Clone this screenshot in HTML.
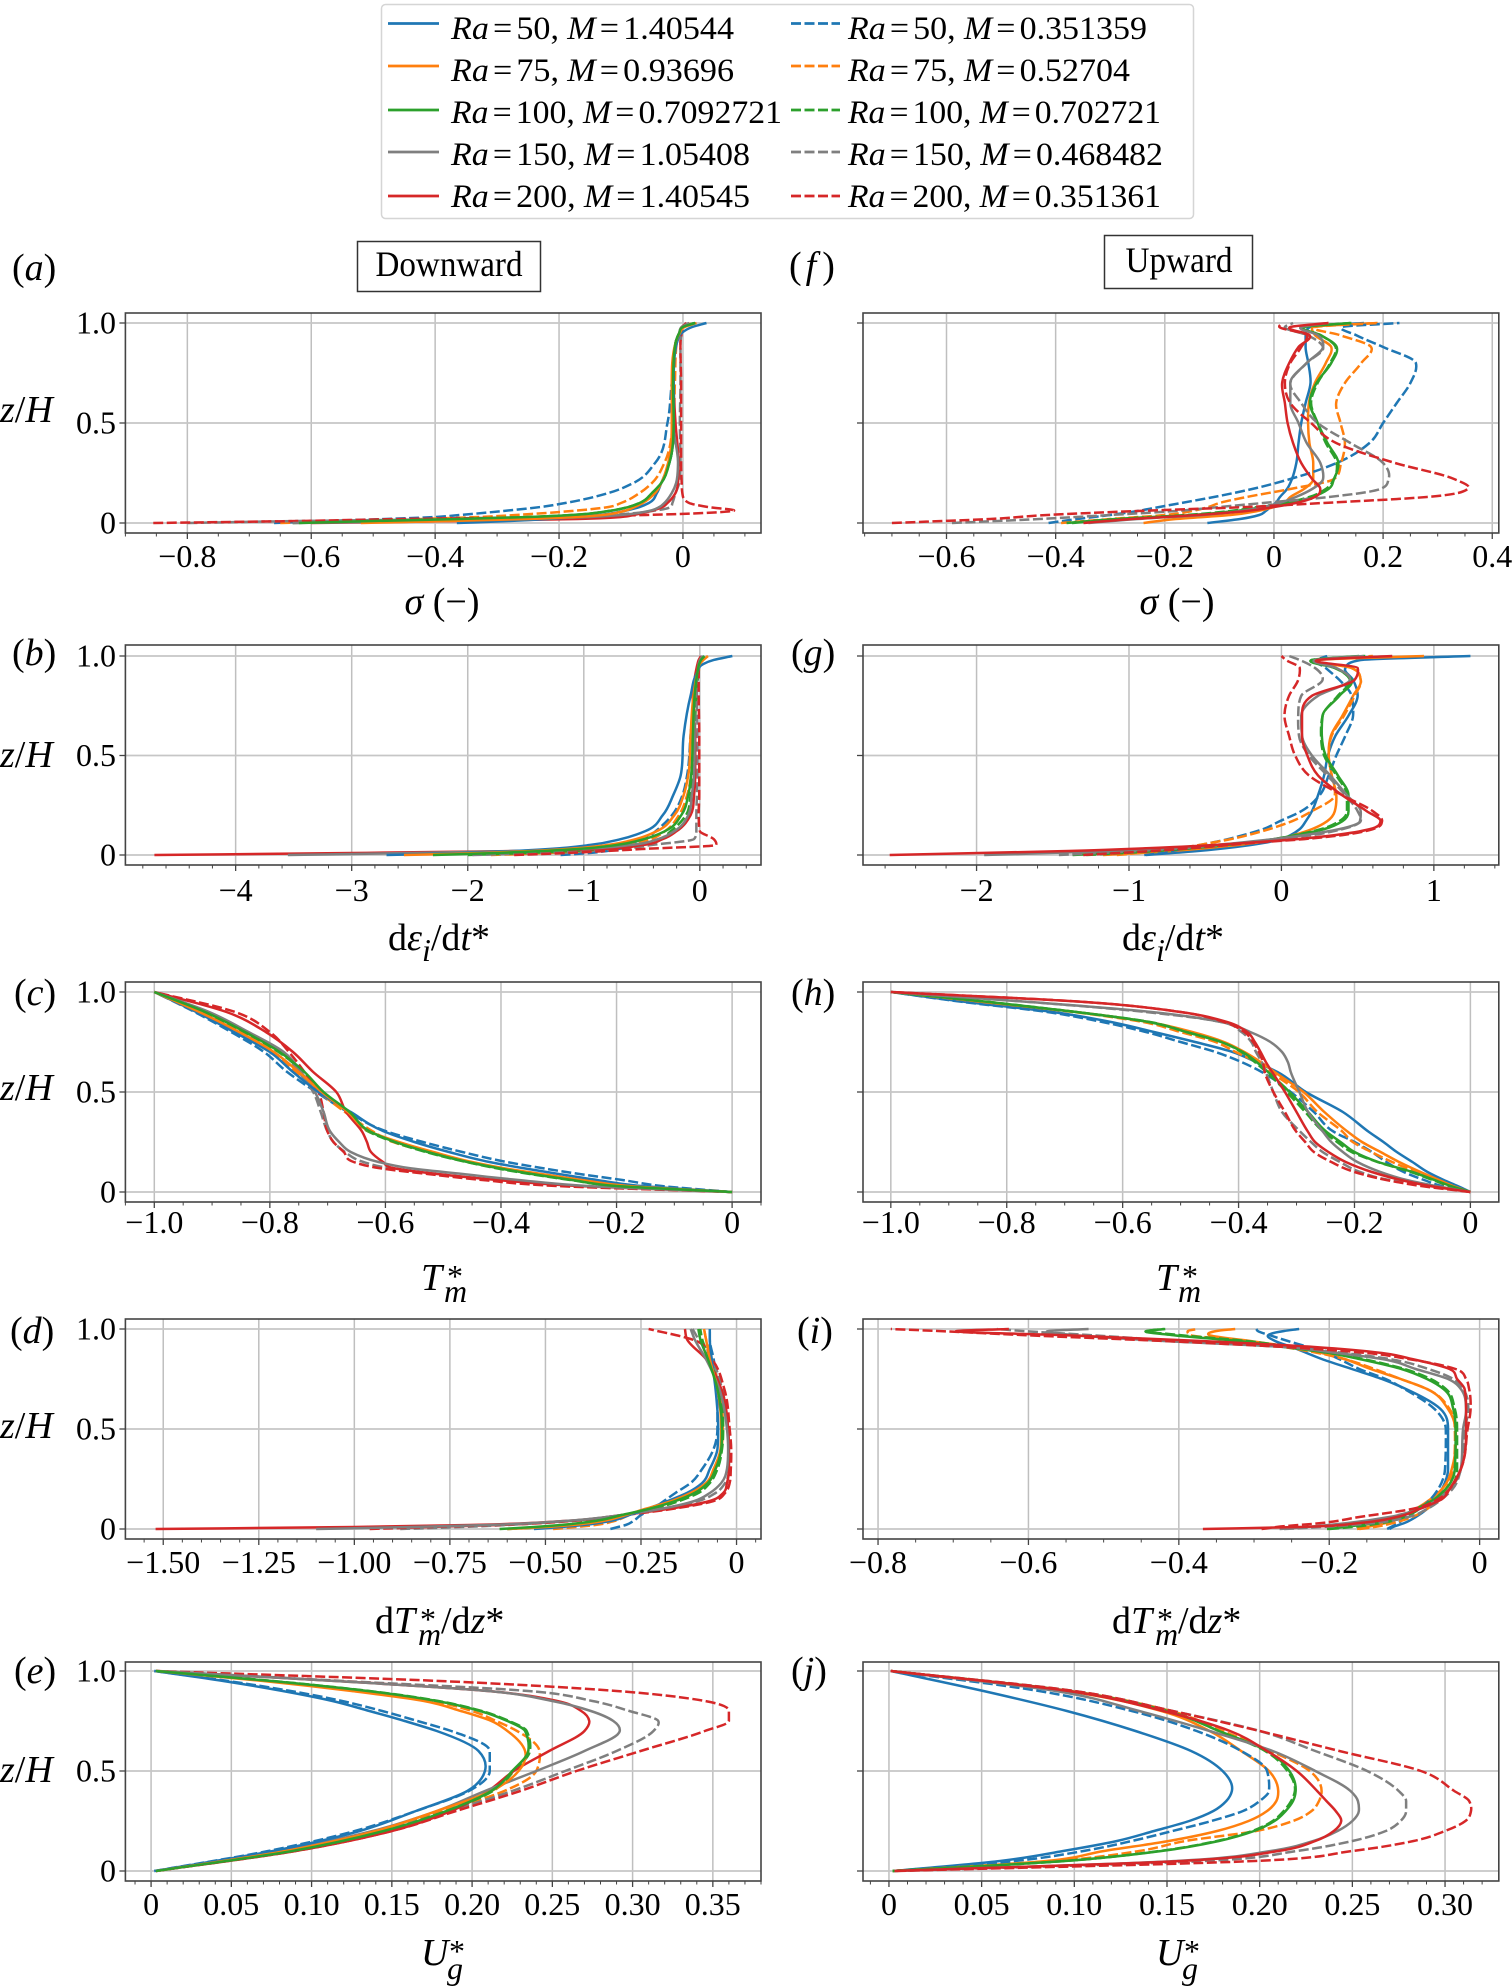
<!DOCTYPE html>
<html lang="en">
<head>
<meta charset="utf-8">
<title>Vertical profiles for downward and upward cases</title>
<style>
html,body{margin:0;padding:0;background:#fff}
svg{display:block}
text{font-family:"Liberation Serif","DejaVu Serif",serif;fill:#000}
.tick{font-size:32px}
.lab{font-size:38px}
.sub{font-size:32px}
.leg{font-size:33px}
.pan{font-size:38px}
.ttl{font-size:36px}
.it{font-style:italic}
</style>
</head>
<body>
<svg id="figure" xmlns="http://www.w3.org/2000/svg" width="1512" height="1987" viewBox="0 0 1512 1987">
  <rect x="0" y="0" width="1512" height="1987" fill="#fff"/>

  <g>
    <rect x="381.5" y="4.5" width="812" height="214" rx="4" fill="#fff" stroke="#d5d5d5" stroke-width="1.5"/>
    <g><line x1="388" x2="439" y1="23.5" y2="23.5" stroke="#1f77b4" stroke-width="2.8"/><text class="leg" x="451" y="39" textLength="283" lengthAdjust="spacingAndGlyphs"><tspan class="it">Ra</tspan><tspan dx="4">=</tspan><tspan dx="4">50,</tspan><tspan dx="8" class="it">M</tspan><tspan dx="4">=</tspan><tspan dx="4">1.40544</tspan></text></g>
    <g><line x1="388" x2="439" y1="66" y2="66" stroke="#ff7f0e" stroke-width="2.8"/><text class="leg" x="451" y="81" textLength="283" lengthAdjust="spacingAndGlyphs"><tspan class="it">Ra</tspan><tspan dx="4">=</tspan><tspan dx="4">75,</tspan><tspan dx="8" class="it">M</tspan><tspan dx="4">=</tspan><tspan dx="4">0.93696</tspan></text></g>
    <g><line x1="388" x2="439" y1="110" y2="110" stroke="#2ca02c" stroke-width="2.8"/><text class="leg" x="451" y="123" textLength="331" lengthAdjust="spacingAndGlyphs"><tspan class="it">Ra</tspan><tspan dx="4">=</tspan><tspan dx="4">100,</tspan><tspan dx="8" class="it">M</tspan><tspan dx="4">=</tspan><tspan dx="4">0.7092721</tspan></text></g>
    <g><line x1="388" x2="439" y1="152" y2="152" stroke="#7f7f7f" stroke-width="2.8"/><text class="leg" x="451" y="165" textLength="299" lengthAdjust="spacingAndGlyphs"><tspan class="it">Ra</tspan><tspan dx="4">=</tspan><tspan dx="4">150,</tspan><tspan dx="8" class="it">M</tspan><tspan dx="4">=</tspan><tspan dx="4">1.05408</tspan></text></g>
    <g><line x1="388" x2="439" y1="196" y2="196" stroke="#d62728" stroke-width="2.8"/><text class="leg" x="451" y="207" textLength="299" lengthAdjust="spacingAndGlyphs"><tspan class="it">Ra</tspan><tspan dx="4">=</tspan><tspan dx="4">200,</tspan><tspan dx="8" class="it">M</tspan><tspan dx="4">=</tspan><tspan dx="4">1.40545</tspan></text></g>
    <g><line x1="791" x2="840" y1="23.5" y2="23.5" stroke="#1f77b4" stroke-width="2.8" stroke-dasharray="10 3.5"/><text class="leg" x="848" y="39" textLength="299" lengthAdjust="spacingAndGlyphs"><tspan class="it">Ra</tspan><tspan dx="4">=</tspan><tspan dx="4">50,</tspan><tspan dx="8" class="it">M</tspan><tspan dx="4">=</tspan><tspan dx="4">0.351359</tspan></text></g>
    <g><line x1="791" x2="840" y1="66" y2="66" stroke="#ff7f0e" stroke-width="2.8" stroke-dasharray="10 3.5"/><text class="leg" x="848" y="81" textLength="282" lengthAdjust="spacingAndGlyphs"><tspan class="it">Ra</tspan><tspan dx="4">=</tspan><tspan dx="4">75,</tspan><tspan dx="8" class="it">M</tspan><tspan dx="4">=</tspan><tspan dx="4">0.52704</tspan></text></g>
    <g><line x1="791" x2="840" y1="110" y2="110" stroke="#2ca02c" stroke-width="2.8" stroke-dasharray="10 3.5"/><text class="leg" x="848" y="123" textLength="313" lengthAdjust="spacingAndGlyphs"><tspan class="it">Ra</tspan><tspan dx="4">=</tspan><tspan dx="4">100,</tspan><tspan dx="8" class="it">M</tspan><tspan dx="4">=</tspan><tspan dx="4">0.702721</tspan></text></g>
    <g><line x1="791" x2="840" y1="152" y2="152" stroke="#7f7f7f" stroke-width="2.8" stroke-dasharray="10 3.5"/><text class="leg" x="848" y="165" textLength="315" lengthAdjust="spacingAndGlyphs"><tspan class="it">Ra</tspan><tspan dx="4">=</tspan><tspan dx="4">150,</tspan><tspan dx="8" class="it">M</tspan><tspan dx="4">=</tspan><tspan dx="4">0.468482</tspan></text></g>
    <g><line x1="791" x2="840" y1="196" y2="196" stroke="#d62728" stroke-width="2.8" stroke-dasharray="10 3.5"/><text class="leg" x="848" y="207" textLength="313" lengthAdjust="spacingAndGlyphs"><tspan class="it">Ra</tspan><tspan dx="4">=</tspan><tspan dx="4">200,</tspan><tspan dx="8" class="it">M</tspan><tspan dx="4">=</tspan><tspan dx="4">0.351361</tspan></text></g>
  </g>

  <g>
    <rect x="357.5" y="241.5" width="183" height="50" fill="#fff" stroke="#333" stroke-width="1.5"/>
    <text class="ttl" x="449" y="276" text-anchor="middle" textLength="147" lengthAdjust="spacingAndGlyphs">Downward</text>
  </g>
  <g>
    <rect x="1104.5" y="235.5" width="148" height="53" fill="#fff" stroke="#333" stroke-width="1.5"/>
    <text class="ttl" x="1179" y="272" text-anchor="middle" textLength="107" lengthAdjust="spacingAndGlyphs">Upward</text>
  </g>

  <g>
    <text x="12" y="280" class="pan">(<tspan class="it">a</tspan>)</text>
    <text x="12" y="665" class="pan">(<tspan class="it">b</tspan>)</text>
    <text x="14" y="1005" class="pan">(<tspan class="it">c</tspan>)</text>
    <text x="10" y="1343" class="pan">(<tspan class="it">d</tspan>)</text>
    <text x="14" y="1683" class="pan">(<tspan class="it">e</tspan>)</text>
    <text x="789" y="278" class="pan">(<tspan class="it" dx="4">f</tspan><tspan dx="6">)</tspan></text>
    <text x="791" y="665" class="pan">(<tspan class="it">g</tspan>)</text>
    <text x="791" y="1005" class="pan">(<tspan class="it">h</tspan>)</text>
    <text x="797" y="1343" class="pan">(<tspan class="it">i</tspan>)</text>
    <text x="791" y="1683" class="pan">(<tspan class="it">j</tspan>)</text>
  </g>

  <g>
    <text class="lab" x="0" y="422"><tspan class="it">z</tspan>/<tspan class="it">H</tspan></text>
    <text class="lab" x="0" y="767"><tspan class="it">z</tspan>/<tspan class="it">H</tspan></text>
    <text class="lab" x="0" y="1100"><tspan class="it">z</tspan>/<tspan class="it">H</tspan></text>
    <text class="lab" x="0" y="1438"><tspan class="it">z</tspan>/<tspan class="it">H</tspan></text>
    <text class="lab" x="0" y="1782"><tspan class="it">z</tspan>/<tspan class="it">H</tspan></text>
  </g>

  <g>
    <text class="lab" text-anchor="middle" x="442" y="614"><tspan class="it">σ</tspan> (−)</text>
    <text class="lab" text-anchor="middle" x="1177" y="614"><tspan class="it">σ</tspan> (−)</text>
    <text class="lab" text-anchor="middle" x="439" y="950">d<tspan class="it">ε</tspan><tspan class="it sub" dy="11">i</tspan><tspan dy="-11">/d</tspan><tspan class="it">t</tspan>*</text>
    <text class="lab" text-anchor="middle" x="1173" y="950">d<tspan class="it">ε</tspan><tspan class="it sub" dy="11">i</tspan><tspan dy="-11">/d</tspan><tspan class="it">t</tspan>*</text>
    <g><text class="lab it" x="421" y="1290">T</text><text class="sub" x="447" y="1287">*</text><text class="sub it" x="444" y="1302">m</text></g>
    <g><text class="lab it" x="1156" y="1290">T</text><text class="sub" x="1182" y="1287">*</text><text class="sub it" x="1178" y="1302">m</text></g>
    <g><text class="lab" x="375" y="1633">d<tspan class="it">T</tspan></text><text class="sub" x="420" y="1630">*</text><text class="sub it" x="418" y="1645">m</text><text class="lab" x="441" y="1633">/d<tspan class="it">z</tspan>*</text></g>
    <g><text class="lab" x="1112" y="1633">d<tspan class="it">T</tspan></text><text class="sub" x="1157" y="1630">*</text><text class="sub it" x="1155" y="1645">m</text><text class="lab" x="1178" y="1633">/d<tspan class="it">z</tspan>*</text></g>
    <g><text class="lab it" x="421" y="1965">U</text><text class="sub" x="449" y="1962">*</text><text class="sub it" x="447" y="1979">g</text></g>
    <g><text class="lab it" x="1156" y="1965">U</text><text class="sub" x="1184" y="1962">*</text><text class="sub it" x="1182" y="1979">g</text></g>
  </g>

  <g id="panels"></g>
</svg>

<script>
// Shared categories
const rayleighNumbers = [50, 75, 100, 150, 200];
const zTickValues = [0, 0.5, 1];
const zTickLabels = ['0', '0.5', '1.0'];

// Panel (a) sigma, downward
const a_z = [0,.01,.02,.03,.04,.06,.08,.1,.15,.2,.3,.5,.7,.9,.95,.98,1];
const a_s50 = [-.365,-.28,-.22,-.17,-.135,-.095,-.07,-.055,-.042,-.035,-.022,-.015,-.015,-.01,-.002,.015,.038];
const a_s75 = [-.52,-.38,-.25,-.17,-.13,-.095,-.078,-.065,-.045,-.035,-.024,-.018,-.018,-.012,-.005,.003,.022];
const a_s100 = [-.62,-.5,-.36,-.25,-.18,-.12,-.088,-.07,-.05,-.035,-.022,-.015,-.016,-.012,-.006,0,.02];
const a_s150 = [-.63,-.4,-.25,-.15,-.1,-.055,-.038,-.03,-.018,-.011,-.008,-.016,-.016,-.012,-.006,-.002,.01];
const a_s200 = [-.6,-.35,-.17,-.1,-.08,-.052,-.033,-.025,-.012,-.008,-.007,-.012,-.015,-.012,-.006,-.002,.006];
const a_d50 = [-.66,-.58,-.48,-.4,-.36,-.29,-.23,-.19,-.12,-.08,-.045,-.025,-.018,-.01,-.004,0,.02];
const a_d75 = [-.65,-.5,-.42,-.33,-.27,-.18,-.12,-.1,-.07,-.05,-.03,-.016,-.013,-.01,-.005,0,.015];
const a_d100 = [-.63,-.5,-.36,-.25,-.18,-.12,-.088,-.07,-.05,-.035,-.022,-.015,-.016,-.012,-.006,0,.018];
const a_d150 = [-.8,-.62,-.35,-.2,-.12,-.05,-.02,-.017,-.012,-.006,-.004,-.005,-.004,-.004,-.002,0,.005];
const a_d200 = [-.855,-.62,-.45,-.2,-.06,.08,.04,.01,-.001,-.002,-.003,-.003,-.003,-.004,-.002,0,.01];
const a_ticks = [-.8,-.6,-.4,-.2,0];
const a_tickLabels = ['−0.8','−0.6','−0.4','−0.2','0'];

// Panel (b) strain rate, downward
const b_z = [0,.01,.02,.03,.05,.08,.12,.2,.3,.4,.6,.8,.92,.96,.98,1];
const b_s50 = [-2.7,-2.05,-1.6,-1.3,-.95,-.68,-.47,-.32,-.23,-.165,-.14,-.08,-.02,.03,.12,.28];
const b_s75 = [-2.55,-1.9,-1.45,-1.15,-.8,-.55,-.37,-.22,-.14,-.1,-.08,-.055,-.02,0,.03,.07];
const b_s100 = [-2.3,-1.75,-1.35,-1.05,-.72,-.48,-.3,-.16,-.1,-.075,-.06,-.045,-.02,-.005,.01,.04];
const b_s150 = [-3.55,-2.5,-1.6,-1.05,-.6,-.36,-.22,-.1,-.07,-.05,-.045,-.05,-.02,-.01,0,.02];
const b_s200 = [-4.7,-3,-1.6,-.9,-.5,-.32,-.2,-.08,-.05,-.04,-.04,-.06,-.035,-.02,-.01,.01];
const b_d50 = [-1.2,-.95,-.8,-.7,-.58,-.47,-.38,-.24,-.15,-.11,-.08,-.05,-.015,0,.01,.03];
const b_d75 = [-1.8,-1.3,-1,-.82,-.6,-.42,-.3,-.18,-.11,-.075,-.05,-.03,-.01,0,.01,.03];
const b_d100 = [-2,-1.5,-1.1,-.85,-.55,-.35,-.25,-.12,-.08,-.06,-.045,-.03,-.01,0,.01,.03];
const b_d150 = [-1.96,-1.4,-1,-.7,-.42,-.05,-.03,-.03,-.025,-.02,-.02,-.025,-.02,-.01,0,.02];
const b_d200 = [-1.6,-1.15,-.8,-.5,.14,.12,0,-.01,-.005,-.005,-.005,-.01,-.01,-.005,0,.05];
const b_ticks = [-4,-3,-2,-1,0];
const b_tickLabels = ['−4','−3','−2','−1','0'];

// Panel (c) temperature, downward
const c_z = [0,.03,.06,.09,.12,.15,.2,.25,.3,.4,.5,.6,.7,.8,.9,1];
const c_s50 = [0,-.157,-.234,-.3,-.363,-.42,-.49,-.55,-.6,-.66,-.716,-.76,-.8,-.862,-.927,-1];
const c_s75 = [0,-.18,-.26,-.33,-.397,-.45,-.517,-.577,-.625,-.665,-.71,-.75,-.793,-.853,-.922,-1];
const c_s100 = [0,-.2,-.277,-.346,-.406,-.458,-.527,-.583,-.625,-.662,-.707,-.74,-.783,-.843,-.912,-1];
const c_s150 = [0,-.25,-.37,-.466,-.56,-.612,-.66,-.68,-.695,-.707,-.722,-.746,-.776,-.837,-.905,-1];
const c_s200 = [0,-.268,-.406,-.51,-.587,-.604,-.625,-.632,-.64,-.668,-.685,-.725,-.76,-.807,-.875,-1];
const c_d50 = [0,-.122,-.19,-.264,-.33,-.39,-.467,-.535,-.595,-.665,-.72,-.77,-.81,-.867,-.93,-1];
const c_d75 = [0,-.185,-.268,-.342,-.406,-.458,-.527,-.587,-.62,-.67,-.715,-.755,-.8,-.86,-.927,-1];
const c_d100 = [0,-.2,-.28,-.35,-.41,-.46,-.53,-.585,-.628,-.664,-.71,-.742,-.785,-.845,-.914,-1];
const c_d150 = [0,-.285,-.406,-.51,-.595,-.638,-.67,-.69,-.7,-.712,-.725,-.75,-.78,-.84,-.908,-1];
const c_d200 = [0,-.303,-.432,-.527,-.612,-.655,-.672,-.69,-.7,-.707,-.716,-.74,-.767,-.8,-.86,-1];
const c_ticks = [-1,-.8,-.6,-.4,-.2,0];
const c_tickLabels = ['−1.0','−0.8','−0.6','−0.4','−0.2','0'];

// Panel (d) temperature gradient, downward
const d_z = [0,.01,.02,.04,.07,.1,.14,.18,.23,.3,.4,.5,.7,.85,.95,1];
const d_s50 = [-.53,-.46,-.4,-.33,-.28,-.235,-.18,-.13,-.09,-.07,-.05,-.048,-.055,-.065,-.07,-.07];
const d_s75 = [-.6,-.5,-.43,-.35,-.29,-.24,-.17,-.12,-.08,-.06,-.042,-.04,-.05,-.07,-.08,-.085];
const d_s100 = [-.62,-.53,-.46,-.37,-.3,-.23,-.16,-.11,-.075,-.055,-.04,-.038,-.05,-.075,-.095,-.1];
const d_s150 = [-1.1,-.85,-.65,-.45,-.3,-.2,-.11,-.07,-.04,-.025,-.022,-.025,-.045,-.08,-.11,-.12];
const d_s200 = [-1.52,-1,-.7,-.45,-.3,-.18,-.07,-.035,-.025,-.02,-.02,-.022,-.04,-.08,-.13,-.135];
const d_d50 = [-.33,-.31,-.29,-.27,-.25,-.22,-.19,-.16,-.12,-.09,-.06,-.05,-.05,-.06,-.07,-.07];
const d_d75 = [-.48,-.42,-.37,-.32,-.28,-.23,-.16,-.11,-.075,-.055,-.04,-.036,-.045,-.065,-.08,-.085];
const d_d100 = [-.6,-.5,-.44,-.36,-.29,-.22,-.15,-.1,-.07,-.05,-.038,-.035,-.045,-.07,-.09,-.095];
const d_d150 = [-.88,-.72,-.6,-.44,-.3,-.2,-.1,-.055,-.03,-.02,-.02,-.022,-.038,-.065,-.1,-.115];
const d_d200 = [-.96,-.8,-.62,-.43,-.29,-.17,-.06,-.03,-.018,-.015,-.014,-.018,-.032,-.065,-.12,-.23];
const d_ticks = [-1.5,-1.25,-1,-.75,-.5,-.25,0];
const d_tickLabels = ['−1.50','−1.25','−1.00','−0.75','−0.50','−0.25','0'];

// Panel (e) velocity, downward
const e_z = [0,.1,.2,.3,.4,.5,.6,.7,.75,.8,.85,.9,.95,1];
const e_s50 = [.002,.076,.13,.165,.197,.208,.204,.178,.158,.136,.113,.082,.045,.002];
const e_s75 = [.003,.084,.14,.178,.212,.229,.233,.222,.212,.193,.17,.125,.07,.003];
const e_s100 = [.003,.088,.145,.184,.212,.225,.235,.233,.222,.205,.178,.135,.075,.003];
const e_s150 = [.003,.08,.138,.178,.208,.24,.27,.292,.288,.274,.25,.21,.115,.003];
const e_s200 = [.003,.09,.15,.187,.21,.226,.248,.27,.273,.268,.253,.21,.115,.003];
const e_d50 = [.002,.073,.127,.165,.198,.211,.211,.187,.166,.144,.119,.087,.048,.002];
const e_d75 = [.003,.084,.143,.182,.22,.24,.242,.228,.215,.2,.175,.13,.072,.003];
const e_d100 = [.003,.087,.144,.184,.213,.226,.236,.234,.223,.206,.179,.136,.076,.003];
const e_d150 = [.003,.085,.143,.186,.225,.258,.29,.313,.316,.298,.275,.235,.12,.003];
const e_d200 = [.003,.09,.15,.19,.23,.265,.305,.345,.36,.36,.345,.29,.18,.003];
const e_ticks = [0,.05,.1,.15,.2,.25,.3,.35];
const e_tickLabels = ['0','0.05','0.10','0.15','0.20','0.25','0.30','0.35'];

// Panel (f) sigma, upward
const f_z = [0,.02,.04,.06,.08,.1,.13,.17,.22,.3,.4,.5,.6,.7,.8,.88,.94,.98,1];
const f_s50 = [-.122,-.062,-.027,-.015,-.006,.003,.011,.024,.033,.041,.045,.05,.058,.067,.063,.058,.058,.066,.165];
const f_s75 = [-.239,-.18,-.08,-.03,0,.018,.03,.055,.072,.072,.065,.0625,.064,.075,.095,.105,.075,.07,.19];
const f_s100 = [-.37,-.28,-.15,-.07,-.02,.03,.07,.1,.11,.118,.098,.08,.066,.078,.105,.115,.085,.055,.142];
const f_s150 = [-.34,-.25,-.13,-.06,-.02,.01,.04,.07,.09,.085,.06,.045,.03,.03,.06,.09,.08,.05,.1];
const f_s200 = [-.349,-.26,-.14,-.05,0,.04,.075,.085,.07,.05,.035,.025,.02,.015,.028,.045,.065,.03,.1];
const f_d50 = [-.413,-.36,-.3,-.25,-.21,-.17,-.11,-.04,.03,.115,.175,.2,.225,.25,.26,.2,.15,.125,.23];
const f_d75 = [-.39,-.3,-.2,-.15,-.12,-.1,-.05,.03,.11,.123,.13,.122,.114,.13,.16,.178,.12,.075,.19];
const f_d100 = [-.38,-.29,-.16,-.08,-.03,.02,.065,.095,.11,.115,.095,.08,.068,.08,.103,.113,.085,.055,.14];
const f_d150 = [-.59,-.43,-.3,-.18,-.1,-.02,.1,.195,.21,.2,.14,.08,.05,.03,.06,.09,.06,.02,.035];
const f_d200 = [-.7,-.52,-.415,-.25,-.05,.09,.28,.355,.33,.222,.114,.068,.03,.02,.03,.05,.06,.01,.015];
const f_ticks = [-.6,-.4,-.2,0,.2,.4];
const f_tickLabels = ['−0.6','−0.4','−0.2','0','0.2','0.4'];

// Panel (g) strain rate, upward
const g_z = [0,.02,.04,.06,.08,.1,.13,.17,.22,.3,.4,.5,.6,.7,.8,.88,.94,.98,1];
const g_s50 = [-.89,-.55,-.3,-.12,0,.06,.12,.16,.2,.24,.28,.305,.355,.44,.5,.47,.42,.52,1.24];
const g_s75 = [-1.17,-.72,-.42,-.18,-.02,.08,.2,.3,.35,.36,.33,.31,.325,.4,.47,.52,.46,.24,.935];
const g_s100 = [-1.37,-.85,-.5,-.25,-.05,.1,.28,.4,.44,.44,.37,.29,.265,.27,.38,.46,.35,.2,.51];
const g_s150 = [-1.95,-1.1,-.6,-.3,-.05,.15,.38,.515,.52,.43,.32,.2,.135,.13,.24,.45,.36,.22,.54];
const g_s200 = [-2.57,-1.4,-.7,-.25,.1,.35,.58,.65,.56,.4,.24,.17,.135,.135,.2,.48,.5,.24,.727];
const g_d50 = [-.9,-.72,-.6,-.47,-.35,-.25,-.12,-.01,.13,.25,.31,.36,.42,.47,.46,.38,.29,.23,.3];
const g_d75 = [-1.08,-.8,-.62,-.47,-.33,-.22,-.08,.07,.2,.35,.33,.31,.33,.41,.48,.52,.46,.24,.6];
const g_d100 = [-1.28,-.82,-.5,-.25,-.05,.09,.26,.38,.43,.43,.36,.28,.26,.27,.37,.45,.35,.2,.55];
const g_d150 = [-1.46,-.95,-.55,-.27,-.02,.2,.4,.52,.5,.42,.3,.18,.115,.11,.13,.27,.22,.12,.05];
const g_d200 = [-1.3,-.85,-.5,-.2,.15,.4,.6,.66,.6,.4,.18,.09,.05,.02,.05,.11,.12,.03,0];
const g_ticks = [-2,-1,0,1];
const g_tickLabels = ['−2','−1','0','1'];

// Panel (h) temperature, upward
const h_z = [0,.03,.06,.1,.15,.2,.25,.3,.4,.5,.6,.65,.7,.75,.8,.85,.9,.95,1];
const h_s50 = [0,-.022,-.046,-.074,-.1,-.127,-.15,-.175,-.22,-.284,-.333,-.37,-.41,-.475,-.546,-.62,-.72,-.87,-1];
const h_s75 = [0,-.03,-.054,-.086,-.123,-.155,-.187,-.211,-.252,-.288,-.338,-.362,-.39,-.425,-.48,-.555,-.68,-.84,-1];
const h_s100 = [0,-.034,-.062,-.1,-.159,-.2,-.224,-.248,-.28,-.312,-.349,-.369,-.393,-.43,-.49,-.555,-.68,-.83,-1];
const h_s150 = [0,-.06,-.11,-.155,-.195,-.22,-.24,-.254,-.28,-.295,-.31,-.315,-.325,-.345,-.38,-.43,-.55,-.76,-1];
const h_s200 = [0,-.07,-.12,-.17,-.215,-.245,-.268,-.28,-.3,-.32,-.342,-.353,-.362,-.372,-.385,-.42,-.5,-.665,-1];
const h_d50 = [0,-.05,-.08,-.115,-.145,-.17,-.2,-.235,-.27,-.31,-.36,-.395,-.44,-.5,-.56,-.635,-.73,-.875,-1];
const h_d75 = [0,-.038,-.062,-.094,-.135,-.171,-.203,-.22,-.264,-.296,-.345,-.369,-.405,-.44,-.5,-.565,-.685,-.84,-1];
const h_d100 = [0,-.036,-.065,-.103,-.16,-.205,-.23,-.253,-.285,-.317,-.352,-.372,-.395,-.43,-.49,-.553,-.68,-.83,-1];
const h_d150 = [0,-.065,-.14,-.19,-.225,-.255,-.275,-.293,-.325,-.34,-.353,-.36,-.37,-.378,-.395,-.43,-.56,-.76,-1];
const h_d200 = [0,-.085,-.145,-.2,-.24,-.27,-.285,-.3,-.32,-.34,-.355,-.358,-.365,-.375,-.39,-.425,-.5,-.665,-1];
const h_ticks = [-1,-.8,-.6,-.4,-.2,0];
const h_tickLabels = ['−1.0','−0.8','−0.6','−0.4','−0.2','0'];

// Panel (i) temperature gradient, upward
const i_z = [0,.01,.03,.06,.1,.15,.2,.3,.5,.6,.7,.75,.8,.85,.88,.91,.94,.97,.99,1];
const i_s50 = [-.12,-.115,-.1,-.085,-.07,-.058,-.05,-.042,-.042,-.052,-.098,-.13,-.17,-.21,-.23,-.25,-.272,-.281,-.26,-.24];
const i_s75 = [-.163,-.15,-.125,-.105,-.085,-.065,-.05,-.037,-.032,-.042,-.07,-.105,-.145,-.18,-.21,-.25,-.305,-.36,-.35,-.325];
const i_s100 = [-.203,-.18,-.14,-.11,-.085,-.06,-.045,-.033,-.032,-.035,-.048,-.07,-.104,-.16,-.2,-.26,-.32,-.41,-.443,-.418];
const i_s150 = [-.266,-.23,-.175,-.12,-.08,-.055,-.04,-.025,-.022,-.018,-.025,-.042,-.085,-.13,-.19,-.26,-.42,-.54,-.573,-.52];
const i_s200 = [-.368,-.24,-.16,-.11,-.08,-.05,-.04,-.025,-.018,-.018,-.02,-.03,-.04,-.09,-.13,-.22,-.37,-.56,-.695,-.626];
const i_d50 = [-.123,-.118,-.108,-.098,-.08,-.065,-.055,-.046,-.045,-.06,-.1,-.125,-.16,-.187,-.205,-.228,-.255,-.28,-.295,-.297];
const i_d75 = [-.16,-.14,-.115,-.09,-.07,-.055,-.045,-.035,-.033,-.04,-.07,-.105,-.14,-.18,-.215,-.26,-.31,-.385,-.388,-.375];
const i_d100 = [-.2,-.17,-.13,-.1,-.08,-.055,-.04,-.03,-.03,-.033,-.045,-.065,-.1,-.155,-.195,-.25,-.31,-.4,-.44,-.42];
const i_d150 = [-.26,-.21,-.14,-.095,-.07,-.05,-.036,-.025,-.02,-.015,-.022,-.035,-.068,-.12,-.18,-.26,-.4,-.52,-.608,-.642];
const i_d200 = [-.29,-.27,-.21,-.16,-.09,-.055,-.04,-.025,-.016,-.012,-.014,-.018,-.032,-.095,-.15,-.26,-.42,-.61,-.72,-.783];
const i_ticks = [-.8,-.6,-.4,-.2,0];
const i_tickLabels = ['−0.8','−0.6','−0.4','−0.2','0'];

// Panel (j) velocity, upward
const j_z = [0,.05,.1,.15,.2,.25,.3,.35,.4,.5,.6,.7,.8,.9,1];
const j_s50 = [.002,.06,.094,.123,.143,.162,.175,.182,.185,.18,.163,.133,.096,.051,.001];
const j_s75 = [.002,.085,.116,.151,.177,.194,.204,.209,.21,.205,.19,.173,.147,.096,.001];
const j_s100 = [.002,.095,.147,.178,.197,.208,.214,.218,.2194,.216,.204,.178,.15,.097,.001];
const j_s150 = [.003,.155,.206,.229,.242,.25,.2535,.253,.249,.23,.207,.173,.135,.09,.001];
const j_s200 = [.003,.158,.21,.23,.24,.244,.241,.236,.231,.22,.204,.184,.148,.097,.001];
const j_d50 = [.002,.068,.105,.131,.153,.174,.191,.2,.205,.204,.19,.166,.131,.081,.001];
const j_d75 = [.002,.09,.135,.16,.198,.218,.228,.232,.2334,.227,.206,.18,.152,.098,.001];
const j_d100 = [.002,.095,.146,.177,.196,.207,.213,.217,.219,.215,.203,.178,.15,.097,.001];
const j_d150 = [.003,.17,.22,.25,.268,.276,.279,.279,.275,.258,.23,.2,.153,.1,.001];
const j_d200 = [.004,.197,.25,.283,.3,.311,.314,.313,.305,.287,.243,.2,.153,.1,.001];
const j_ticks = [0,.05,.1,.15,.2,.25,.3];
const j_tickLabels = ['0','0.05','0.10','0.15','0.20','0.25','0.30'];

const NS = 'http://www.w3.org/2000/svg';
const seriesColors = ['#1f77b4', '#ff7f0e', '#2ca02c', '#7f7f7f', '#d62728'];

const colLeft = {left: 125.4, right: 761, showZLabels: true, order: ['d0','d1','d2','d3','d4','s4','s3','s0','s1','s2']};
const colRight = {left: 863, right: 1498.8, showZLabels: false, order: ['s0','s1','d0','d1','s2','d2','s3','d3','s4','d4']};
const rows = [
  {top: 313, bottom: 533, z1: 323, z0: 523, tickBase: 567},
  {top: 645, bottom: 865, z1: 656, z0: 855, tickBase: 901},
  {top: 982, bottom: 1202, z1: 992, z0: 1192, tickBase: 1233},
  {top: 1319, bottom: 1539, z1: 1329, z0: 1529, tickBase: 1573},
  {top: 1662, bottom: 1881, z1: 1671, z0: 1871, tickBase: 1915}
];

const panelList = [
  {id:'a', col:colLeft, row:rows[0], xmin:-.9, xmax:.126, minor:.05, z:a_z, s:[a_s50,a_s75,a_s100,a_s150,a_s200], d:[a_d50,a_d75,a_d100,a_d150,a_d200], ticks:a_ticks, labels:a_tickLabels},
  {id:'b', col:colLeft, row:rows[1], xmin:-4.95, xmax:.527, minor:.2, z:b_z, s:[b_s50,b_s75,b_s100,b_s150,b_s200], d:[b_d50,b_d75,b_d100,b_d150,b_d200], ticks:b_ticks, labels:b_tickLabels},
  {id:'c', col:colLeft, row:rows[2], xmin:-1.05, xmax:.05, minor:.05, z:c_z, s:[c_s50,c_s75,c_s100,c_s150,c_s200], d:[c_d50,c_d75,c_d100,c_d150,c_d200], ticks:c_ticks, labels:c_tickLabels},
  {id:'d', col:colLeft, row:rows[3], xmin:-1.599, xmax:.064, minor:.05, z:d_z, s:[d_s50,d_s75,d_s100,d_s150,d_s200], d:[d_d50,d_d75,d_d100,d_d150,d_d200], ticks:d_ticks, labels:d_tickLabels},
  {id:'e', col:colLeft, row:rows[4], xmin:-.016, xmax:.38, minor:.01, z:e_z, s:[e_s50,e_s75,e_s100,e_s150,e_s200], d:[e_d50,e_d75,e_d100,e_d150,e_d200], ticks:e_ticks, labels:e_tickLabels},
  {id:'f', col:colRight, row:rows[0], xmin:-.753, xmax:.412, minor:.05, z:f_z, s:[f_s50,f_s75,f_s100,f_s150,f_s200], d:[f_d50,f_d75,f_d100,f_d150,f_d200], ticks:f_ticks, labels:f_tickLabels},
  {id:'g', col:colRight, row:rows[1], xmin:-2.745, xmax:1.426, minor:.2, z:g_z, s:[g_s50,g_s75,g_s100,g_s150,g_s200], d:[g_d50,g_d75,g_d100,g_d150,g_d200], ticks:g_ticks, labels:g_tickLabels},
  {id:'h', col:colRight, row:rows[2], xmin:-1.048, xmax:.049, minor:.05, z:h_z, s:[h_s50,h_s75,h_s100,h_s150,h_s200], d:[h_d50,h_d75,h_d100,h_d150,h_d200], ticks:h_ticks, labels:h_tickLabels},
  {id:'i', col:colRight, row:rows[3], xmin:-.82, xmax:.0255, minor:.05, z:i_z, s:[i_s50,i_s75,i_s100,i_s150,i_s200], d:[i_d50,i_d75,i_d100,i_d150,i_d200], ticks:i_ticks, labels:i_tickLabels},
  {id:'j', col:colRight, row:rows[4], xmin:-.014, xmax:.329, minor:.01, z:j_z, s:[j_s50,j_s75,j_s100,j_s150,j_s200], d:[j_d50,j_d75,j_d100,j_d150,j_d200], ticks:j_ticks, labels:j_tickLabels}
];

function makeEl(tag, attrs) {
  const el = document.createElementNS(NS, tag);
  for (const k in attrs) el.setAttribute(k, attrs[k]);
  return el;
}

// Smooth path through (x(z), z) samples; three-point slopes limited to avoid overshoot.
function profilePath(zs, xs, sx, sy) {
  const n = zs.length;
  const secant = [];
  for (let k = 0; k < n - 1; k++) secant.push((xs[k + 1] - xs[k]) / (zs[k + 1] - zs[k]));
  const slope = [secant[0]];
  for (let k = 1; k < n - 1; k++) {
    const a = secant[k - 1], b = secant[k];
    const h0 = zs[k] - zs[k - 1], h1 = zs[k + 1] - zs[k];
    const p = (a * h1 + b * h0) / (h0 + h1);
    const factor = a * b > 0 ? 3 : 1;
    const limit = factor * Math.min(Math.abs(a), Math.abs(b));
    slope.push(Math.sign(p) * Math.min(Math.abs(p), limit));
  }
  slope.push(secant[n - 2]);
  let out = 'M' + sx(xs[0]).toFixed(2) + ' ' + sy(zs[0]).toFixed(2);
  for (let k = 0; k < n - 1; k++) {
    const h = (zs[k + 1] - zs[k]) / 3;
    out += 'C' + sx(xs[k] + slope[k] * h).toFixed(2) + ' ' + sy(zs[k] + h).toFixed(2) + ' ' +
      sx(xs[k + 1] - slope[k + 1] * h).toFixed(2) + ' ' + sy(zs[k + 1] - h).toFixed(2) + ' ' +
      sx(xs[k + 1]).toFixed(2) + ' ' + sy(zs[k + 1]).toFixed(2);
  }
  return out;
}

function drawPanel(p) {
  const root = document.getElementById('panels');
  const L = p.col.left, R = p.col.right, T = p.row.top, B = p.row.bottom;
  const sx = v => L + (v - p.xmin) / (p.xmax - p.xmin) * (R - L);
  const sy = z => p.row.z0 + (p.row.z1 - p.row.z0) * z;

  const g = makeEl('g', {});
  
  
  root.appendChild(g);

  p.ticks.forEach((v, k) => {
    const grid = makeEl('line', {x1: sx(v), x2: sx(v), y1: T, y2: B, stroke: '#bfbfbf', 'stroke-width': 1.5});
    
    
    g.appendChild(grid);
  });
  zTickValues.forEach(z => {
    const grid = makeEl('line', {x1: L, x2: R, y1: sy(z), y2: sy(z), stroke: '#c6c6c6', 'stroke-width': 1.7});
    
    
    g.appendChild(grid);
  });

  p.col.order.forEach(key => {
    const idx = +key[1];
    const dashed = key[0] === 'd';
    const values = dashed ? p.d[idx] : p.s[idx];
    const path = makeEl('path', {d: profilePath(p.z, values, sx, sy), fill: 'none', stroke: seriesColors[idx], 'stroke-width': 2.5, 'stroke-linejoin': 'round'});
    if (dashed) path.setAttribute('stroke-dasharray', '10 3.5');
    
    
    g.appendChild(path);
  });

  const frame = makeEl('rect', {x: L, y: T, width: R - L, height: B - T, fill: 'none', stroke: '#444', 'stroke-width': 1.6});
  
  
  g.appendChild(frame);

  const first = Math.ceil(p.xmin / p.minor - 1e-6), last = Math.floor(p.xmax / p.minor + 1e-6);
  for (let k = first; k <= last; k++) {
    const v = k * p.minor;
    if (p.ticks.some(t => Math.abs(t - v) < 1e-6)) continue;
    const tick = makeEl('line', {x1: sx(v), x2: sx(v), y1: B, y2: B + 3.5, stroke: '#444', 'stroke-width': 1});
    
    
    g.appendChild(tick);
  }

  p.ticks.forEach((v, k) => {
    const tick = makeEl('line', {x1: sx(v), x2: sx(v), y1: B, y2: B + 6, stroke: '#444', 'stroke-width': 1.3});
    
    
    g.appendChild(tick);
    const label = makeEl('text', {class: 'tick', 'text-anchor': 'middle', x: sx(v).toFixed(1), y: p.row.tickBase});
    label.textContent = p.labels[k];
    
    
    g.appendChild(label);
  });

  zTickValues.forEach((z, k) => {
    const tick = makeEl('line', {x1: L - 6, x2: L, y1: sy(z), y2: sy(z), stroke: '#444', 'stroke-width': 1.3});
    
    
    g.appendChild(tick);
    if (p.col.showZLabels) {
      const label = makeEl('text', {class: 'tick', 'text-anchor': 'end', x: 116, y: sy(z) + 10.5});
      label.textContent = zTickLabels[k];
      
      
      g.appendChild(label);
    }
  });
}

panelList.forEach(drawPanel);
</script>
</body>
</html>
